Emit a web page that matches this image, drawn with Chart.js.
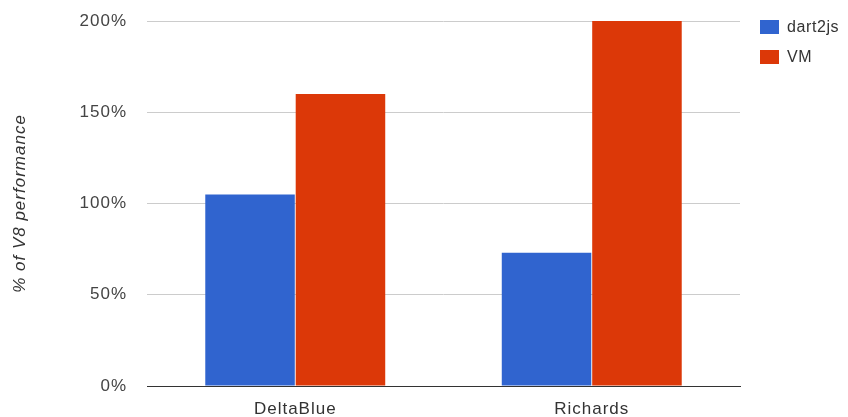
<!DOCTYPE html>
<html>
<head>
<meta charset="utf-8">
<script src="https://cdn.jsdelivr.net/npm/chart.js@4/dist/chart.umd.min.js"></script>
<style>
  html, body { margin: 0; padding: 0; background: #fff; }
  #wrap { width: 848px; height: 417px; }
</style>
</head>
<body>
<div id="wrap"><canvas id="chart" width="848" height="417"></canvas></div>
<script>
const categories = ['DeltaBlue', 'Richards'];
const dart2jsValues = [105, 73];
const vmValues = [160, 200];
const seriesNames = ['dart2js', 'VM'];
const seriesColors = ['#3064cf', '#dc3808'];
const yTicks = [0, 50, 100, 150, 200];

const FONT = '"Liberation Sans", Arial, sans-serif';

// the reference text is a bit loosely spaced
const spacing = {
  id: 'spacing',
  beforeDraw(chart) { chart.ctx.letterSpacing = '1px'; },
};

// legend drawn to the right of the plot, google-charts style
const sideLegend = {
  id: 'sideLegend',
  afterDraw(chart) {
    const { ctx, chartArea } = chart;
    const x = chartArea.right + 20;
    ctx.save();
    ctx.font = '16px ' + FONT;
    ctx.letterSpacing = '0.6px';
    ctx.textBaseline = 'middle';
    chart.data.datasets.forEach((ds, i) => {
      const y = 20 + i * 30;
      ctx.fillStyle = ds.backgroundColor;
      ctx.fillRect(x, y, 19, 14);
      ctx.fillStyle = '#333';
      ctx.fillText(ds.label, x + 27, y + 8);
    });
    ctx.restore();
  }
};

new Chart(document.getElementById('chart'), {
  type: 'bar',
  data: {
    labels: categories,
    datasets: [
      { label: seriesNames[0], data: dart2jsValues, backgroundColor: seriesColors[0] },
      { label: seriesNames[1], data: vmValues, backgroundColor: seriesColors[1] },
    ],
  },
  options: {
    responsive: false,
    animation: false,
    layout: { padding: { top: 21, right: 108, left: 0, bottom: 0 } },
    datasets: {
      bar: { categoryPercentage: 0.61, barPercentage: 0.99, borderWidth: 0 },
    },
    plugins: { legend: { display: false }, tooltip: { enabled: false } },
    scales: {
      x: {
        grid: { display: false, drawTicks: false },
        border: { display: true, color: '#333', width: 1 },
        ticks: { color: '#333', font: { family: FONT, size: 17 }, padding: 13, maxRotation: 0 },
        afterFit(scale) { scale.height = 31; },
      },
      y: {
        min: 0,
        max: 200,
        afterBuildTicks(scale) { scale.ticks = yTicks.map((v) => ({ value: v })); },
        grid: {
          drawTicks: false,
          color: (c) => (c.tick && c.tick.value === 0 ? '#333' : '#ccc'),
        },
        border: { display: false },
        ticks: {
          color: '#444',
          font: { family: FONT, size: 17 },
          padding: 20,
          callback: (v) => v + '%',
        },
        title: {
          display: true,
          text: '% of V8 performance',
          color: '#333',
          font: { family: FONT, size: 17, style: 'italic' },
          padding: { top: 10, bottom: 0 },
        },
        afterFit(scale) {
          scale.width = 147;
          scale.paddingTop = 0;
          scale.paddingBottom = 0;
        },
      },
    },
  },
  plugins: [spacing, sideLegend],
});
</script>
</body>
</html>
